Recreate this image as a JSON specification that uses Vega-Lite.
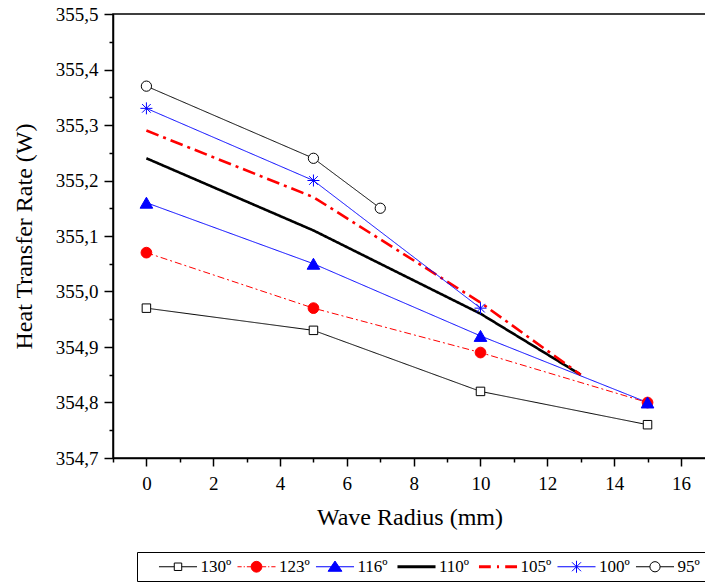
{
  "$schema": "https://vega.github.io/schema/vega-lite/v6.json",
  "width": 593,
  "height": 444,
  "autosize": {"type": "none"},
  "padding": {"left": 113, "top": 14, "right": 0, "bottom": 124},
  "background": "white",
  "config": {
    "font": "Liberation Serif",
    "view": {"stroke": "black", "strokeWidth": 1.5},
    "axis": {
      "domainColor": "black", "domainWidth": 1.5,
      "tickColor": "black", "tickWidth": 1.5,
      "labelColor": "black", "titleColor": "black",
      "labelFont": "Liberation Serif", "titleFont": "Liberation Serif",
      "labelFontSize": 19, "titleFontSize": 24, "titleFontWeight": "normal",
      "grid": false, "labelFlush": false, "labelOverlap": false, "labelBound": false
    },
    "legend": {"labelFont": "Liberation Serif", "titleFont": "Liberation Serif"}
  },
  "data": {
    "values": [
      {"series": "130º", "radius": 0, "rate": 354.97},
      {"series": "130º", "radius": 5, "rate": 354.93},
      {"series": "130º", "radius": 10, "rate": 354.82},
      {"series": "130º", "radius": 15, "rate": 354.76},
      {"series": "123º", "radius": 0, "rate": 355.07},
      {"series": "123º", "radius": 5, "rate": 354.97},
      {"series": "123º", "radius": 10, "rate": 354.89},
      {"series": "123º", "radius": 15, "rate": 354.80},
      {"series": "116º", "radius": 0, "rate": 355.16},
      {"series": "116º", "radius": 5, "rate": 355.05},
      {"series": "116º", "radius": 10, "rate": 354.92},
      {"series": "116º", "radius": 15, "rate": 354.80},
      {"series": "110º", "radius": 0, "rate": 355.24},
      {"series": "110º", "radius": 5, "rate": 355.11},
      {"series": "110º", "radius": 10, "rate": 354.96},
      {"series": "110º", "radius": 13, "rate": 354.85},
      {"series": "105º", "radius": 0, "rate": 355.29},
      {"series": "105º", "radius": 5, "rate": 355.17},
      {"series": "105º", "radius": 10, "rate": 354.98},
      {"series": "105º", "radius": 13, "rate": 354.85},
      {"series": "100º", "radius": 0, "rate": 355.33},
      {"series": "100º", "radius": 5, "rate": 355.20},
      {"series": "100º", "radius": 10, "rate": 354.97},
      {"series": "95º", "radius": 0, "rate": 355.37},
      {"series": "95º", "radius": 5, "rate": 355.24},
      {"series": "95º", "radius": 7, "rate": 355.15}
    ]
  },
  "resolve": {"scale": {"shape": "independent", "fill": "independent", "stroke": "independent", "strokeWidth": "independent"}},
  "encoding": {
    "x": {
      "field": "radius", "type": "quantitative",
      "scale": {"domain": [-1, 16.75], "nice": false, "zero": false},
      "axis": {
        "title": "Wave Radius (mm)",
        "labelFont": "Liberation Serif", "titleFont": "Liberation Serif",
        "values": [-1, 0, 1, 2, 3, 4, 5, 6, 7, 8, 9, 10, 11, 12, 13, 14, 15, 16],
        "labelExpr": "datum.value % 2 == 0 ? datum.label : ''",
        "tickSize": {"condition": {"test": "datum.value % 2 == 0", "value": 8}, "value": 4},
        "labelPadding": 8,
        "titlePadding": 12
      }
    },
    "y": {
      "field": "rate", "type": "quantitative",
      "scale": {"domain": [354.7, 355.5], "nice": false, "zero": false},
      "axis": {
        "title": "Heat Transfer Rate (W)",
        "labelFont": "Liberation Serif", "titleFont": "Liberation Serif",
        "values": [354.7, 354.75, 354.8, 354.85, 354.9, 354.95, 355, 355.05, 355.1, 355.15, 355.2, 355.25, 355.3, 355.35, 355.4, 355.45, 355.5],
        "labelExpr": "abs(datum.value*10-round(datum.value*10)) < 0.001 ? replace(format(datum.value, '.1f'), '.', ',') : ''",
        "tickSize": {"condition": {"test": "abs(datum.value*10-round(datum.value*10)) < 0.001", "value": 9}, "value": 4},
        "labelPadding": 6,
        "titlePadding": 19
      }
    }
  },
  "layer": [
    {
      "mark": {"type": "line"},
      "encoding": {
        "detail": {"field": "series", "type": "nominal"},
        "color": {
          "field": "series", "type": "nominal", "legend": null,
          "scale": {"domain": ["130º", "123º", "116º", "110º", "105º", "100º", "95º"],
                    "range": ["#000000", "#ff0000", "#0000ff", "#000000", "#ff0000", "#0000ff", "#000000"]}
        },
        "strokeDash": {
          "field": "series", "type": "nominal", "legend": null,
          "scale": {"domain": ["130º", "123º", "116º", "110º", "105º", "100º", "95º"],
                    "range": [[1, 0], [7, 3, 2, 3], [1, 0], [1, 0], [13, 5, 3, 5], [1, 0], [1, 0]]}
        },
        "strokeWidth": {
          "field": "series", "type": "nominal", "legend": null,
          "scale": {"type": "ordinal", "domain": ["130º", "123º", "116º", "110º", "105º", "100º", "95º"],
                    "range": [1, 1, 1, 2.6, 2.6, 1, 1]}
        }
      }
    },
    {
      "transform": [{"filter": {"field": "series", "oneOf": ["130º", "123º", "116º", "100º", "95º"]}}],
      "mark": {"type": "point", "opacity": 1, "strokeWidth": 1},
      "encoding": {
        "shape": {
          "field": "series", "type": "nominal", "legend": null,
          "scale": {"domain": ["130º", "123º", "116º", "100º", "95º"],
                    "range": ["square", "circle", "triangle-up", "M-1,0L1,0M0,-1L0,1M-0.72,-0.72L0.72,0.72M-0.72,0.72L0.72,-0.72", "circle"]}
        },
        "fill": {
          "field": "series", "type": "nominal", "legend": null,
          "scale": {"domain": ["130º", "123º", "116º", "100º", "95º"],
                    "range": ["#ffffff", "#ff0000", "#0000ff", "transparent", "#ffffff"]}
        },
        "stroke": {
          "field": "series", "type": "nominal", "legend": null,
          "scale": {"domain": ["130º", "123º", "116º", "100º", "95º"],
                    "range": ["#000000", "#ff0000", "#0000ff", "#0000ff", "#000000"]}
        },
        "size": {
          "field": "series", "type": "nominal", "legend": null,
          "scale": {"type": "ordinal", "domain": ["130º", "123º", "116º", "100º", "95º"],
                    "range": [72, 115, 160, 144, 105]}
        }
      }
    },
    {
      "mark": {"type": "point", "opacity": 0, "size": 144},
      "encoding": {
        "shape": {
          "field": "series", "type": "nominal",
          "scale": {"domain": ["130º", "123º", "116º", "110º", "105º", "100º", "95º"],
                    "range": [
                      "M-3.17,0H-0.62M0.62,0H3.17M-0.62,-0.62H0.62V0.62H-0.62Z",
                      "M-3.17,0H-2.47M-2.14,0H-1.94M-1.61,0H-0.9M0.9,0H1.61M1.94,0H2.14M2.47,0H3.17M0.9,0A0.9,0.9,0,1,1,-0.9,0A0.9,0.9,0,1,1,0.9,0Z",
                      "M-3.17,0H3.17M0,-0.95L1.15,0.75H-1.15Z",
                      "M-3.17,0H3.17",
                      "M-3.17,0H-1.2M-0.17,0H0.17M1.2,0H3.17",
                      "M-3.17,0H3.17M0,-1V1M-0.75,-0.75L0.75,0.75M-0.75,0.75L0.75,-0.75",
                      "M-3.17,0H-0.85M0.85,0H3.17M0.85,0A0.85,0.85,0,1,1,-0.85,0A0.85,0.85,0,1,1,0.85,0Z"
                    ]},
          "legend": {"orient": "none", "legendX": 24, "legendY": 538, "direction": "horizontal", "title": " ", "titleOrient": "left", "titlePadding": 16, "titleFontSize": 17, "labelFont": "Liberation Serif", "labelFontSize": 17, "labelColor": "black", "labelOffset": 14, "symbolOffset": 10.5, "symbolSize": 144, "symbolOpacity": 1, "columnPadding": 2.5, "padding": 6, "strokeColor": "black", "fillColor": "white"}
        },
        "fill": {
          "field": "series", "type": "nominal",
          "scale": {"domain": ["130º", "123º", "116º", "110º", "105º", "100º", "95º"],
                    "range": ["#ffffff", "#ff0000", "#0000ff", "transparent", "transparent", "transparent", "#ffffff"]},
          "legend": {"orient": "none", "legendX": 24, "legendY": 538, "direction": "horizontal", "title": " ", "titleOrient": "left", "titlePadding": 16, "titleFontSize": 17, "labelFont": "Liberation Serif", "labelFontSize": 17, "labelColor": "black", "labelOffset": 14, "symbolOffset": 10.5, "symbolSize": 144, "symbolOpacity": 1, "columnPadding": 2.5, "padding": 6, "strokeColor": "black", "fillColor": "white"}
        },
        "stroke": {
          "field": "series", "type": "nominal",
          "scale": {"domain": ["130º", "123º", "116º", "110º", "105º", "100º", "95º"],
                    "range": ["#000000", "#ff0000", "#0000ff", "#000000", "#ff0000", "#0000ff", "#000000"]},
          "legend": {"orient": "none", "legendX": 24, "legendY": 538, "direction": "horizontal", "title": " ", "titleOrient": "left", "titlePadding": 16, "titleFontSize": 17, "labelFont": "Liberation Serif", "labelFontSize": 17, "labelColor": "black", "labelOffset": 14, "symbolOffset": 10.5, "symbolSize": 144, "symbolOpacity": 1, "columnPadding": 2.5, "padding": 6, "strokeColor": "black", "fillColor": "white"}
        },
        "strokeWidth": {
          "field": "series", "type": "nominal",
          "scale": {"type": "ordinal", "domain": ["130º", "123º", "116º", "110º", "105º", "100º", "95º"],
                    "range": [1, 1, 1, 3, 3, 1, 1]},
          "legend": {"orient": "none", "legendX": 24, "legendY": 538, "direction": "horizontal", "title": " ", "titleOrient": "left", "titlePadding": 16, "titleFontSize": 17, "labelFont": "Liberation Serif", "labelFontSize": 17, "labelColor": "black", "labelOffset": 14, "symbolOffset": 10.5, "symbolSize": 144, "symbolOpacity": 1, "columnPadding": 2.5, "padding": 6, "strokeColor": "black", "fillColor": "white"}
        }
      }
    }
  ]
}
